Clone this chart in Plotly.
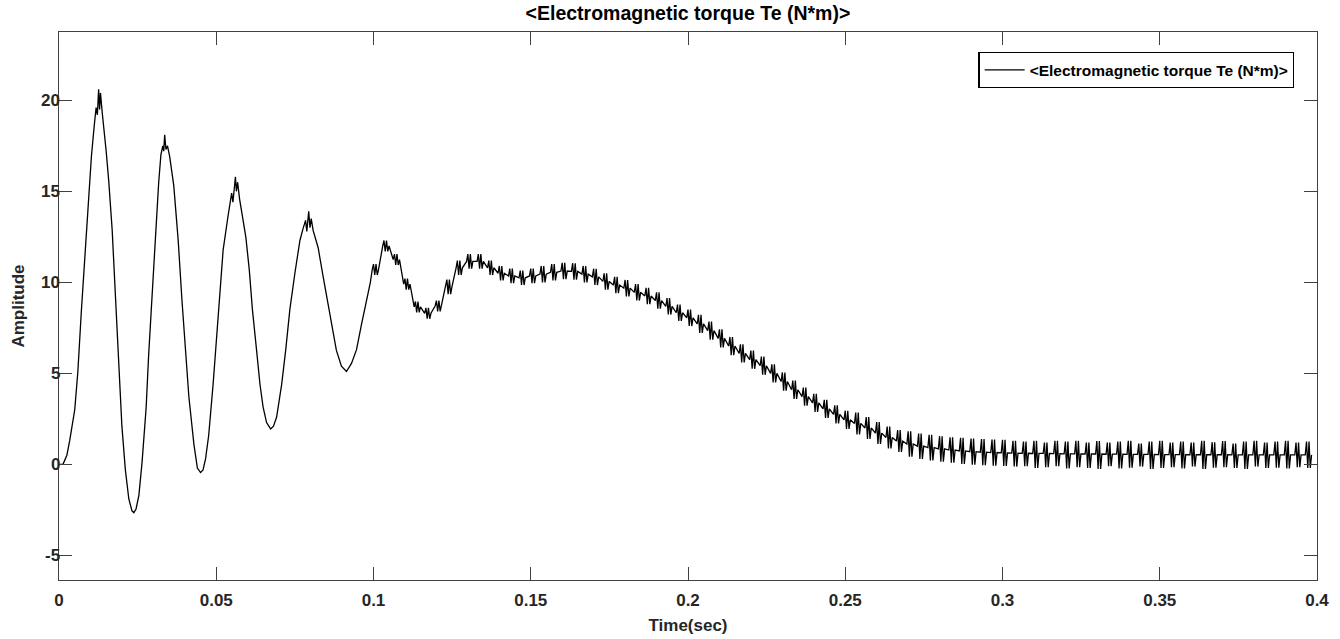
import plotly.graph_objects as go

# ---------------- data ----------------
# Early transient (0 .. 0.1 s): times (s) and torque (N*m)
early_time = [0.0, 0.0013, 0.0025, 0.0034, 0.005, 0.006, 0.0071, 0.0082, 0.0092, 0.0103,
              0.0112, 0.0118, 0.0122, 0.0126, 0.0129, 0.0132, 0.0137, 0.0142, 0.0150, 0.0158,
              0.0169, 0.0179, 0.0190, 0.0200, 0.0211, 0.0222, 0.0232, 0.0238, 0.0245, 0.0254,
              0.0264, 0.0277, 0.0285, 0.0296, 0.0307, 0.0317, 0.0324, 0.0330, 0.0333, 0.0336,
              0.0340, 0.0345, 0.0352, 0.0358, 0.0365, 0.0372, 0.0379, 0.0391, 0.0402, 0.0413,
              0.0429, 0.0440, 0.0450, 0.0458, 0.0466, 0.0476, 0.0490, 0.0506, 0.0522, 0.0538,
              0.0549, 0.0553, 0.0557, 0.0561, 0.0564, 0.0568, 0.0574, 0.0580, 0.0594, 0.0605,
              0.0615, 0.0628, 0.0639, 0.0649, 0.0660, 0.0673, 0.0682, 0.0692, 0.0708, 0.0721,
              0.0734, 0.0750, 0.0766, 0.0776, 0.0784, 0.0788, 0.0794, 0.0798, 0.0802, 0.0808,
              0.0824, 0.0840, 0.0856, 0.0870, 0.0882, 0.0898, 0.0914, 0.0930, 0.0946, 0.0962,
              0.0978, 0.0990]
early_torque = [0.0, 0.02, 0.5, 1.3, 3.0, 5.1, 8.4, 11.5, 14.4, 16.9,
                18.6, 19.6, 19.2, 20.6, 19.5, 20.4, 19.4, 18.6, 17.2, 15.6,
                12.9, 9.4, 5.6, 2.1, -0.3, -1.9, -2.55, -2.65, -2.45, -1.7,
                0.1, 3.1, 6.0, 9.4, 12.8, 15.5, 17.0, 17.5, 17.2, 18.1,
                17.3, 17.5, 16.9, 16.0, 15.3, 13.8, 12.3, 9.0, 6.3, 3.7,
                1.1, -0.2, -0.45, -0.3, 0.3, 1.6, 4.4, 8.2, 11.8, 13.7,
                14.9, 14.4, 15.3, 15.8, 15.0, 15.5, 14.6, 13.95, 12.5, 10.7,
                8.5, 6.3, 4.4, 3.15, 2.3, 1.95, 2.1, 2.6, 4.4, 6.3,
                8.5, 10.5, 12.3, 12.95, 13.4, 12.8, 13.9, 13.0, 13.5, 12.85,
                11.9, 10.3, 8.8, 7.35, 6.26, 5.4, 5.1, 5.55, 6.3, 7.7,
                9.0, 10.0]

# Later part (0.1 .. 0.4 s): one ripple burst every 1/300 s.
# For each burst: level of the trace between bursts, burst top, burst bottom.
spike_start = 0.1
spike_period = 1.0 / 300.0
spike_center = [10.7, 12.0, 11.25, 9.9, 8.65, 8.3, 8.7, 9.75, 10.8, 11.15,
                11.15, 10.8, 10.5, 10.35, 10.25, 10.35, 10.45, 10.55, 10.62, 10.6,
                10.45, 10.3, 10.05, 9.85, 9.68, 9.45, 9.25, 9.0, 8.68, 8.33,
                8.05, 7.72, 7.35, 6.92, 6.5, 6.1, 5.75, 5.42, 5.0, 4.55,
                4.1, 3.72, 3.38, 3.05, 2.75, 2.45, 2.25, 2.0, 1.72, 1.48,
                1.28, 1.12, 1.0, 0.92, 0.85, 0.79, 0.74, 0.7, 0.67, 0.65,
                0.63, 0.62, 0.61, 0.6, 0.6, 0.59, 0.58, 0.58, 0.57, 0.57,
                0.56, 0.56, 0.55, 0.55, 0.55, 0.54, 0.54, 0.54, 0.53, 0.53,
                0.53, 0.53, 0.52, 0.52, 0.52, 0.52, 0.52, 0.52, 0.52, 0.52]
spike_up = [11.0, 12.3, 11.55, 10.2, 8.95, 8.6, 9.0, 10.15, 11.2, 11.55,
            11.55, 11.2, 10.9, 10.75, 10.65, 10.75, 10.9, 11.0, 11.07, 11.05,
            10.9, 10.75, 10.5, 10.3, 10.13, 9.9, 9.7, 9.45, 9.13, 8.78,
            8.5, 8.22, 7.85, 7.42, 7.0, 6.6, 6.25, 5.92, 5.5, 5.05,
            4.6, 4.22, 3.88, 3.55, 3.25, 2.95, 2.85, 2.6, 2.32, 2.08,
            1.88, 1.82, 1.7, 1.62, 1.55, 1.49, 1.46, 1.42, 1.39, 1.37,
            1.35, 1.3, 1.25, 1.3, 1.2, 1.3, 1.25, 1.3, 1.2, 1.28,
            1.2, 1.25, 1.3, 1.15, 1.25, 1.3, 1.2, 1.25, 1.2, 1.3,
            1.22, 1.28, 1.15, 1.25, 1.3, 1.2, 1.25, 1.3, 1.2, 1.25]
spike_down = [10.4, 11.7, 10.95, 9.6, 8.35, 8.0, 8.4, 9.35, 10.4, 10.75,
              10.75, 10.4, 10.1, 9.95, 9.85, 9.95, 10.0, 10.1, 10.17, 10.15,
              10.0, 9.85, 9.6, 9.4, 9.23, 9.0, 8.8, 8.55, 8.23, 7.88,
              7.6, 7.22, 6.85, 6.42, 6.0, 5.6, 5.25, 4.92, 4.5, 4.05,
              3.6, 3.22, 2.88, 2.55, 2.25, 1.95, 1.65, 1.4, 1.12, 0.88,
              0.68, 0.42, 0.3, 0.22, 0.15, 0.09, 0.02, -0.02, -0.05, -0.07,
              -0.09, -0.12, -0.1, -0.2, -0.15, -0.1, -0.22, -0.15, -0.2, -0.25,
              -0.1, -0.22, -0.18, -0.12, -0.25, -0.2, -0.15, -0.22, -0.12, -0.25,
              -0.18, -0.15, -0.2, -0.25, -0.12, -0.2, -0.18, -0.22, -0.15, -0.2]

x_ticks = [0, 0.05, 0.1, 0.15, 0.2, 0.25, 0.3, 0.35, 0.4]
x_ticklabels = ["0", "0.05", "0.1", "0.15", "0.2", "0.25", "0.3", "0.35", "0.4"]
y_ticks = [-5, 0, 5, 10, 15, 20]
y_ticklabels = ["-5", "0", "5", "10", "15", "20"]

series_name = "&lt;Electromagnetic torque Te (N*m)&gt;"
title_text = "&lt;Electromagnetic torque Te (N*m)&gt;"

# ---------------- build the trace path ----------------
time_all = list(early_time)
torque_all = list(early_torque)
for j in range(len(spike_center)):
    tj = spike_start + j * spike_period
    time_all += [tj - 0.0004, tj, tj + 0.0004, tj + 0.0008, tj + 0.0012, tj + 0.0016]
    torque_all += [spike_center[j], spike_up[j], spike_down[j],
                   spike_up[j], spike_down[j], spike_center[j]]

FONT = "Arial, Liberation Sans, Helvetica, sans-serif"
AXC = "#404040"
TXT = "#262626"

fig = go.Figure()
fig.add_trace(go.Scatter(
    x=time_all, y=torque_all, mode="lines", name=series_name,
    line=dict(color="black", width=1.3), showlegend=True,
))

axis_common = dict(
    showgrid=False, zeroline=False, showline=True, linecolor=AXC, linewidth=1.3,
    mirror="ticks", ticks="inside", ticklen=13, tickwidth=1.3, tickcolor=AXC,
    tickfont=dict(family=FONT, size=17, color=TXT, weight="bold"),
    automargin=False,
)

fig.update_layout(
    width=1340, height=639,
    margin=dict(l=59, r=23, t=32, b=59),
    paper_bgcolor="white", plot_bgcolor="white",
    title=dict(text="<b>" + title_text + "</b>", x=0.5134, xanchor="center",
               y=1 - 13 / 639, yanchor="middle",
               font=dict(family=FONT, size=19.5, color="black")),
    xaxis=dict(range=[0, 0.4], tickvals=x_ticks, ticktext=x_ticklabels,
               ticklabelstandoff=4,
               title=dict(text="<b>Time(sec)</b>", standoff=10,
                          font=dict(family=FONT, size=17, color=TXT)),
               **axis_common),
    yaxis=dict(range=[-6.35, 23.75], tickvals=y_ticks, showticklabels=False,
               title=dict(text="<b>Amplitude</b>", standoff=28,
                          font=dict(family=FONT, size=17, color=TXT)),
               **axis_common),
    legend=dict(x=0.982, xanchor="right", y=0.9635, yanchor="top",
                bgcolor="white", bordercolor="black", borderwidth=1.3,
                font=dict(family=FONT, size=15.5, color="black", weight="bold"),
                itemwidth=40, tracegroupgap=0),
    showlegend=True,
)

# y tick labels placed right next to the axis line
for v, lab in zip(y_ticks, y_ticklabels):
    fig.add_annotation(x=0, xref="paper", y=v, yref="y", text="<b>" + lab + "</b>",
                       showarrow=False, xanchor="right", yanchor="middle", xshift=3,
                       font=dict(family=FONT, size=17, color=TXT))

fig.write_html("out.html")
